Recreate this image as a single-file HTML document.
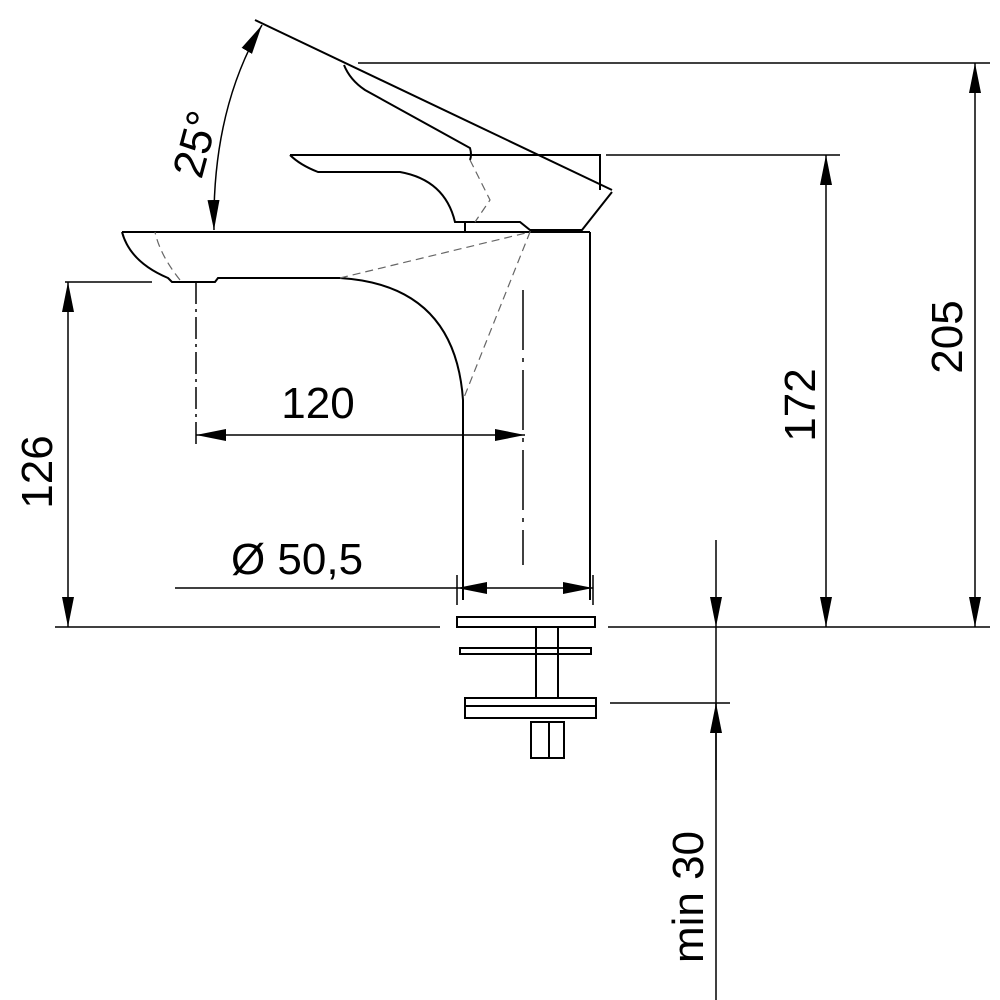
<!DOCTYPE html>
<html><head><style>body{margin:0;background:#fff}svg{display:block}</style></head><body>
<svg width="1000" height="1000" viewBox="0 0 1000 1000" xmlns="http://www.w3.org/2000/svg" font-family="Liberation Sans, sans-serif">
<defs>
<marker id="a" viewBox="0 0 30 30" refX="30" refY="15" markerWidth="30" markerHeight="30" markerUnits="userSpaceOnUse" orient="auto-start-reverse"><path d="M0,9L30,15L0,21Z" fill="#000"/></marker>
</defs>
<g stroke="#000" stroke-width="2" fill="none">
<line x1="255" y1="20" x2="612" y2="190"/>
<path d="M344,65 Q350,80 365,90 L470,148 Q472,155 470,160"/>
<path d="M290,155 L600,155 L600,190"/>
<path d="M290,155 Q300,165 318,172 L400,172 Q445,180 455,222 L520,222 L530,230 L582,230 L612,192"/>
<line x1="465" y1="222" x2="465" y2="232"/>
<path d="M122,232 L590,232"/>
<path d="M122,232 Q130,262 168,278 L172,282 L215,282 L218,278 L340,278 Q455,285 463,400 L463,600"/>
<line x1="590" y1="232" x2="590" y2="600"/>
<rect x="457" y="617" width="138" height="10"/>
<line x1="536" y1="627" x2="536" y2="698"/><line x1="558" y1="627" x2="558" y2="698"/>
<rect x="460" y="648" width="131" height="6"/>
<rect x="465" y="698" width="131" height="8"/>
<rect x="465" y="706" width="131" height="12"/>
<rect x="531" y="722" width="33" height="36"/><line x1="549" y1="722" x2="549" y2="758"/>
</g>
<g stroke="#666" stroke-width="1.2" fill="none" stroke-dasharray="8,5">
<path d="M340,278 L530,232 L463,400"/>
<path d="M470,160 L490,200 L475,222"/>
<path d="M180,280 Q160,255 155,232"/>
</g>
<g stroke="#000" stroke-width="1.5" fill="none">
<line x1="358" y1="63" x2="990" y2="63"/>
<line x1="606" y1="155" x2="840" y2="155"/>
<line x1="65" y1="282" x2="152" y2="282"/>
<line x1="55" y1="627" x2="440" y2="627"/>
<line x1="608" y1="627" x2="990" y2="627"/>
<line x1="610" y1="703" x2="730" y2="703"/>
<line x1="196" y1="282" x2="196" y2="445" stroke-dasharray="22,5,3,5"/>
<line x1="523" y1="290" x2="523" y2="565" stroke-dasharray="60,8,4,8"/>
<line x1="457" y1="575" x2="457" y2="605"/><line x1="593" y1="575" x2="593" y2="605"/>
<line x1="975" y1="63" x2="975" y2="627" marker-start="url(#a)" marker-end="url(#a)"/>
<line x1="826" y1="155" x2="826" y2="627" marker-start="url(#a)" marker-end="url(#a)"/>
<line x1="68" y1="282" x2="68" y2="627" marker-start="url(#a)" marker-end="url(#a)"/>
<line x1="196" y1="435" x2="525" y2="435" marker-start="url(#a)" marker-end="url(#a)"/>
<line x1="175" y1="588" x2="457" y2="588"/>
<line x1="457" y1="588" x2="593" y2="588" marker-start="url(#a)" marker-end="url(#a)"/>
<line x1="716" y1="540" x2="716" y2="627" marker-end="url(#a)"/>
<line x1="716" y1="627" x2="716" y2="1000"/>
<line x1="716" y1="780" x2="716" y2="703" marker-end="url(#a)"/>
<path d="M214,230 Q212,110 262,25" marker-start="url(#a)" marker-end="url(#a)"/>
</g>
<g font-size="44" fill="#000">
<text x="318" y="418" text-anchor="middle">120</text>
<text x="297" y="574" text-anchor="middle">Ø 50,5</text>
<text transform="translate(52,472) rotate(-90)" text-anchor="middle">126</text>
<text transform="translate(815,405) rotate(-90)" text-anchor="middle">172</text>
<text transform="translate(962,337) rotate(-90)" text-anchor="middle">205</text>
<text transform="translate(703,897) rotate(-90)" text-anchor="middle">min 30</text>
<text transform="translate(210,148) rotate(-75)" text-anchor="middle">25°</text>
</g>
</svg>
</body></html>
